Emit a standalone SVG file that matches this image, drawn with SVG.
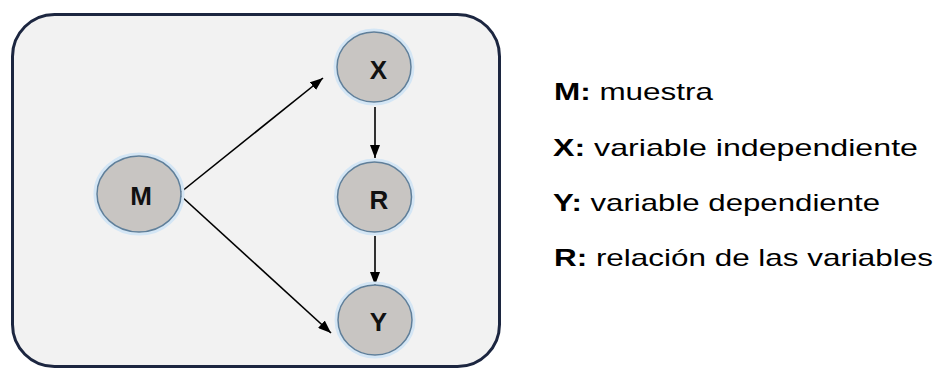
<svg xmlns="http://www.w3.org/2000/svg" width="940" height="369" viewBox="0 0 940 369">
<defs>
<marker id="ah" viewBox="0 0 13 10" refX="13" refY="5" markerWidth="13" markerHeight="10" markerUnits="userSpaceOnUse" orient="auto">
<path d="M0,0 L13,5 L0,10 Z" fill="#000"/>
</marker>
<style>
.node ellipse{fill:#c8c5c2;stroke:#5f7f9a;stroke-width:1.5}
.node ellipse.halo{fill:none;stroke:#d4e6f5;stroke-width:3}
.nl{font-family:"Liberation Sans",Arial,sans-serif;font-weight:bold;font-size:26px;fill:#111;text-anchor:middle}
.conn line{stroke:#000;stroke-width:1.6;marker-end:url(#ah)}
.leg{font-family:"Liberation Sans",Arial,sans-serif;font-size:24px;fill:#000}
.leg tspan.b{font-weight:bold}
</style>
</defs>
<rect width="940" height="369" fill="#fff"/>
<rect id="frame" x="12.5" y="14.5" width="487" height="352" rx="42" ry="42" fill="#f2f2f2" stroke="#1c2640" stroke-width="3"/>
<g id="connectors" class="conn">
<line x1="181" y1="192" x2="323" y2="78"/>
<line x1="181" y1="196" x2="331" y2="333"/>
<line x1="375" y1="107" x2="375" y2="158"/>
<line x1="375" y1="236" x2="375" y2="285"/>
</g>
<g id="node-M" class="node">
<ellipse class="halo" cx="139" cy="194" rx="44" ry="40"/>
<ellipse cx="139" cy="194" rx="42" ry="38"/>
<text class="nl" x="141" y="205">M</text>
</g>
<g id="node-X" class="node">
<ellipse class="halo" cx="374" cy="67" rx="39" ry="37"/>
<ellipse cx="374" cy="67" rx="37" ry="35"/>
<text class="nl" x="378.5" y="79">X</text>
</g>
<g id="node-R" class="node">
<ellipse class="halo" cx="374.5" cy="197" rx="39" ry="37"/>
<ellipse cx="374.5" cy="197" rx="37" ry="35"/>
<text class="nl" x="379" y="209">R</text>
</g>
<g id="node-Y" class="node">
<ellipse class="halo" cx="375" cy="320" rx="39" ry="37"/>
<ellipse cx="375" cy="320" rx="37" ry="35"/>
<text class="nl" x="378.5" y="331">Y</text>
</g>
<g id="legend">
<text class="leg" x="554" y="100" textLength="159" lengthAdjust="spacingAndGlyphs"><tspan class="b">M:</tspan> muestra</text>
<text class="leg" x="553" y="156" textLength="365" lengthAdjust="spacingAndGlyphs"><tspan class="b">X:</tspan> variable independiente</text>
<text class="leg" x="553" y="211" textLength="327" lengthAdjust="spacingAndGlyphs"><tspan class="b">Y:</tspan> variable dependiente</text>
<text class="leg" x="554" y="266" textLength="379" lengthAdjust="spacingAndGlyphs"><tspan class="b">R:</tspan> relación de las variables</text>
</g>
</svg>
